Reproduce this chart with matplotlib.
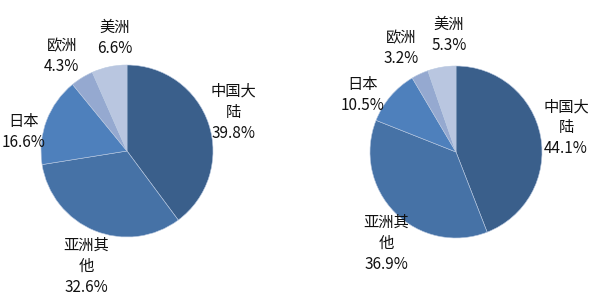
import matplotlib
matplotlib.use("Agg")
import matplotlib.pyplot as plt

plt.rcParams['font.family'] = ['Noto Sans CJK SC', 'DejaVu Sans']

categories = ["中国大\n陆", "亚洲其\n他", "日本", "欧洲", "美洲"]
values_left = [39.8, 32.6, 16.6, 4.3, 6.6]
values_right = [44.1, 36.9, 10.5, 3.2, 5.3]
colors = ["#3A5F8B", "#4672A6", "#4E80BC", "#95A9D0", "#B9C6E0"]

# label centre offsets (in pie-radius units), layout only
offs_left = [(1.24, 0.45), (-0.47, -1.34), (-1.20, 0.22), (-0.76, 1.10), (-0.14, 1.31)]
offs_right = [(1.28, 0.28), (-0.81, -1.06), (-1.09, 0.66), (-0.64, 1.21), (-0.08, 1.36)]

W, H = 600, 298
fig = plt.figure(figsize=(W / 100, H / 100), dpi=100)
fig.patch.set_facecolor("white")

def draw(cx, cy, r, vals, offs):
    ax = fig.add_axes([(cx - r) / W, 1 - (cy + r) / H, 2 * r / W, 2 * r / H])
    ax.pie(vals, colors=colors, startangle=90, counterclock=False,
           wedgeprops=dict(edgecolor="#B8C8E0", linewidth=0.4))
    ax.set_xlim(-1, 1)
    ax.set_ylim(-1, 1)
    ax.set_aspect("equal")
    ax.axis("off")
    for cat, v, (dx, dy) in zip(categories, vals, offs):
        ax.text(dx, dy, f"{cat}\n{v:.1f}%", ha="center", va="center",
                fontsize=11, linespacing=1.3, color="#111111")

draw(127, 151, 86, values_left, offs_left)
draw(456, 152, 86, values_right, offs_right)

fig.savefig("out.png", dpi=100)
